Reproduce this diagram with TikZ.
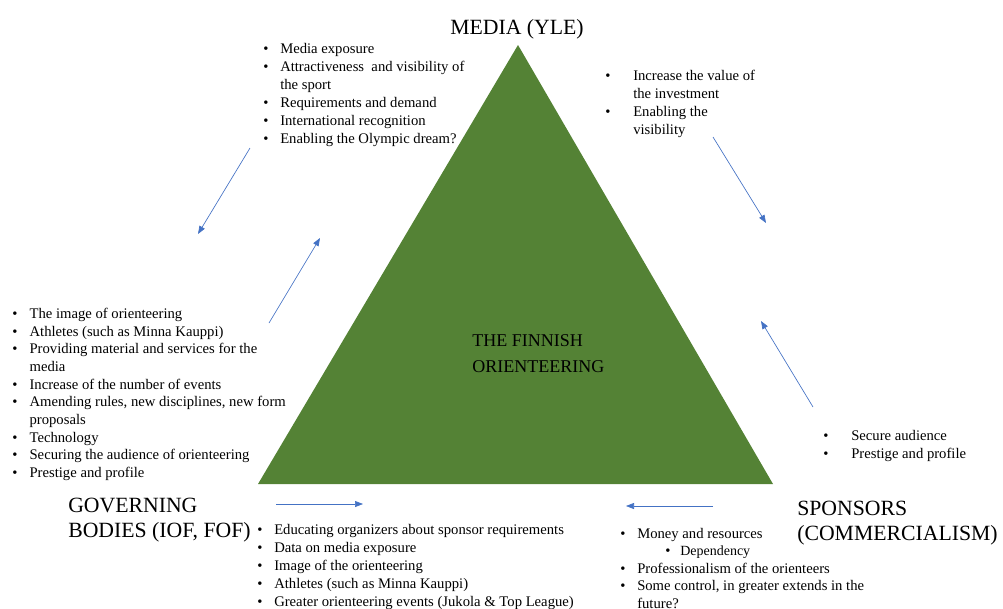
\documentclass[tikz,border=0pt]{standalone}
\usepackage{fontspec}
\setmainfont{Liberation Serif}
\usetikzlibrary{arrows.meta}
\definecolor{leafgreen}{RGB}{84,130,53}
\definecolor{linkblue}{RGB}{68,114,196}
\tikzset{lst/.style={anchor=north west,align=left,inner sep=0pt,font=\fontsize{11}{13.5}\selectfont},
  hd/.style={align=left,inner sep=0pt,font=\fontsize{16.3}{18.75}\selectfont},
  flow/.style={linkblue,line width=0.5pt,-{Triangle[length=6pt,width=4.5pt]}}}
\newcommand{\bl}[1]{\makebox[#1][l]{\textbullet}}

\begin{document}
\begin{tikzpicture}[x=0.75pt,y=-0.75pt]
  \useasboundingbox (0,0) rectangle (1003,608);

  % the triangle
  \coordinate (apex) at (518,45);
  \coordinate (lft) at (258,484);
  \coordinate (rgt) at (773,484);
  \fill[leafgreen] (apex) -- (lft) -- (rgt) -- cycle;
  \node[align=left,inner sep=0pt,anchor=west,font=\fontsize{13.5}{19.5}\selectfont] (core) at (472,354) {THE FINNISH\\ORIENTEERING};

  % corners
  \node[hd,anchor=base] (media) at (517,34) {MEDIA (YLE)};
  \node[hd,anchor=west] (gov) at (68,520) {GOVERNING\\BODIES (IOF, FOF)};
  \node[hd,anchor=west] (spon) at (797,523) {SPONSORS\\(COMMERCIALISM)};

  % lists
  \node[lst] (medialist) at (263,41) {\strut\bl{12.75pt}Media exposure\\
    \bl{12.75pt}Attractiveness\ \ and visibility\ of\\
    \hspace*{12.75pt}the sport\\
    \bl{12.75pt}Requirements and demand\\
    \bl{12.75pt}International recognition\\
    \bl{12.75pt}Enabling the Olympic dream?};
  \node[lst] (sponlist) at (605,68) {\strut\bl{21pt}Increase the value of\\
    \hspace*{21pt}the investment\\
    \bl{21pt}Enabling the\\
    \hspace*{21pt}visibility};
  \node[lst,font=\fontsize{11}{13.25}\selectfont] (govlist) at (12,306) {\strut\bl{13pt}The image of orienteering\\
    \bl{13pt}Athletes (such as Minna Kauppi)\\
    \bl{13pt}Providing material and services for the\\
    \hspace*{13pt}media\\
    \bl{13pt}Increase of the number of events\\
    \bl{13pt}Amending rules, new disciplines, new form\\
    \hspace*{13pt}proposals\\
    \bl{13pt}Technology\\
    \bl{13pt}Securing the audience of orienteering\\
    \bl{13pt}Prestige and profile};
  \node[lst] (audlist) at (823,428) {\strut\bl{21pt}Secure audience\\
    \bl{21pt}Prestige and profile};
  \node[lst] (eventlist) at (257,522) {\strut\bl{12.75pt}Educating organizers about sponsor requirements\\
    \bl{12.75pt}Data on media exposure\\
    \bl{12.75pt}Image of the orienteering\\
    \bl{12.75pt}Athletes (such as Minna Kauppi)\\
    \bl{12.75pt}Greater orienteering events (Jukola \& Top League)};
  \node[lst,font=\fontsize{11}{13.1}\selectfont] (moneylist) at (620,526) {\strut\bl{12.75pt}Money and resources\\
    \hspace*{33.75pt}\bl{11.25pt}{\fontsize{10.5}{13.1}\selectfont Dependency}\\
    \bl{12.75pt}Professionalism of the orienteers\\
    \bl{12.75pt}Some control, in greater extends in the\\
    \hspace*{12.75pt}future?};

  % arrows
  \coordinate (a1s) at (250,148);
  \coordinate (a1e) at (198,234);
  \coordinate (a2s) at (269,323);
  \coordinate (a2e) at (320,238);
  \coordinate (a3s) at (713,137);
  \coordinate (a3e) at (766,223);
  \coordinate (a4s) at (813,407);
  \coordinate (a4e) at (761,321);
  \coordinate (a5s) at (276,504);
  \coordinate (a5e) at (363,504);
  \coordinate (a6s) at (713,506);
  \coordinate (a6e) at (626,506);
  \draw[flow] (a1s) -- (a1e);
  \draw[flow] (a2s) -- (a2e);
  \draw[flow] (a3s) -- (a3e);
  \draw[flow] (a4s) -- (a4e);
  \draw[flow] (a5s) -- (a5e);
  \draw[flow] (a6s) -- (a6e);
\end{tikzpicture}
\end{document}
